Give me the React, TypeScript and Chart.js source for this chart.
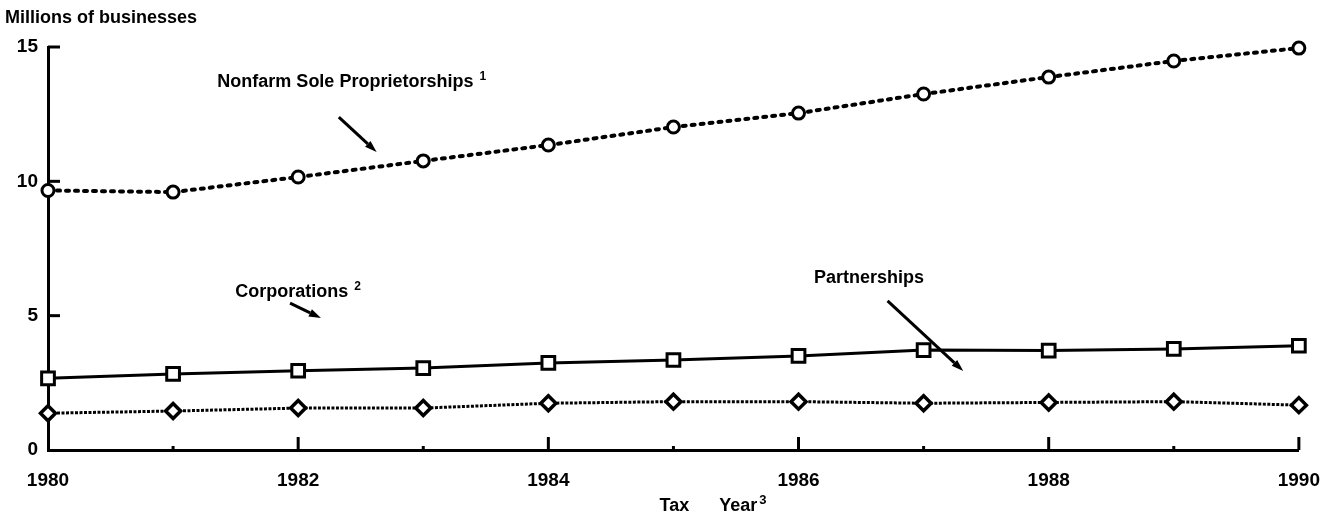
import React, { useEffect, useRef } from "react";
import { Chart, registerables } from "chart.js";

Chart.register(...registerables);

// ---- data ----
const years = [1980, 1981, 1982, 1983, 1984, 1985, 1986, 1987, 1988, 1989, 1990];
const nonfarmSoleProprietorships = [9.66, 9.6, 10.16, 10.76, 11.35, 12.02, 12.54, 13.25, 13.88, 14.48, 14.96];
const corporations = [2.67, 2.83, 2.95, 3.05, 3.24, 3.35, 3.5, 3.72, 3.7, 3.76, 3.88];
const partnerships = [1.37, 1.45, 1.56, 1.56, 1.74, 1.8, 1.8, 1.74, 1.77, 1.8, 1.67];
const yTickValues = [0, 5, 10, 15];
const xLabelYears = [1980, 1982, 1984, 1986, 1988, 1990];

const yAxisTitle = "Millions of businesses";
const xAxisTitleWords = ["Tax", "Year"];
const xAxisTitleNote = "3";

// annotation labels placed in data space (year, value of the text baseline)
const seriesLabels = [
  { text: "Nonfarm Sole Proprietorships", note: "1", x: 1981.354, y: 13.51 },
  { text: "Corporations", note: "2", x: 1981.497, y: 5.69 },
  { text: "Partnerships", note: "", x: 1986.123, y: 6.22 },
];
const arrows = [
  { x1: 1982.325, y1: 12.39, x2: 1982.627, y2: 11.09 },
  { x1: 1981.935, y1: 5.47, x2: 1982.182, y2: 4.91 },
  { x1: 1986.712, y1: 5.55, x2: 1987.317, y2: 2.94 },
];

const FONT = "'Liberation Sans', Arial, Helvetica, sans-serif";

const decorPlugin = {
  id: "decor",
  afterDraw(chart: any) {
    const { ctx, chartArea, scales } = chart;
    const xs = scales.x;
    const ys = scales.y;
    ctx.save();
    ctx.strokeStyle = "#000";
    ctx.fillStyle = "#000";
    ctx.lineWidth = 3;
    ctx.lineCap = "butt";
    // inward y ticks
    for (const v of yTickValues) {
      if (v === 0) continue;
      const py = ys.getPixelForValue(v);
      ctx.beginPath();
      ctx.moveTo(chartArea.left, py);
      ctx.lineTo(chartArea.left + 12, py);
      ctx.stroke();
    }
    // inward x ticks
    for (const yr of years) {
      if (yr === years[0]) continue;
      const px = xs.getPixelForValue(yr);
      const len = yr % 2 === 0 ? 13 : 4;
      ctx.beginPath();
      ctx.moveTo(px, chartArea.bottom);
      ctx.lineTo(px, chartArea.bottom - len);
      ctx.stroke();
    }
    // series labels
    ctx.textBaseline = "alphabetic";
    ctx.textAlign = "left";
    for (const l of seriesLabels) {
      const px = xs.getPixelForValue(l.x);
      const py = ys.getPixelForValue(l.y);
      ctx.font = `bold 18px ${FONT}`;
      ctx.fillText(l.text, px, py);
      const w = ctx.measureText(l.text).width;
      if (l.note) {
        ctx.font = `bold 12px ${FONT}`;
        ctx.fillText(l.note, px + w + 6, py - 7);
      }
    }
    // arrows
    for (const a of arrows) {
      const x1 = xs.getPixelForValue(a.x1);
      const y1 = ys.getPixelForValue(a.y1);
      const x2 = xs.getPixelForValue(a.x2);
      const y2 = ys.getPixelForValue(a.y2);
      const ang = Math.atan2(y2 - y1, x2 - x1);
      const headLen = 12;
      const headW = 4;
      const bx = x2 - headLen * Math.cos(ang);
      const by = y2 - headLen * Math.sin(ang);
      ctx.lineWidth = 3;
      ctx.beginPath();
      ctx.moveTo(x1, y1);
      ctx.lineTo(bx, by);
      ctx.stroke();
      ctx.beginPath();
      ctx.moveTo(x2, y2);
      ctx.lineTo(bx + headW * Math.sin(ang), by - headW * Math.cos(ang));
      ctx.lineTo(bx - headW * Math.sin(ang), by + headW * Math.cos(ang));
      ctx.closePath();
      ctx.fill();
    }
    // y axis title
    ctx.font = `bold 18px ${FONT}`;
    ctx.fillText(yAxisTitle, chartArea.left - 43, chartArea.top - 24);
    // x axis title
    const tx = xs.getPixelForValue(1984.889);
    const ty = chartArea.bottom + 61;
    ctx.font = `bold 18px ${FONT}`;
    ctx.fillText(xAxisTitleWords[0], tx, ty);
    const tx2 = xs.getPixelForValue(1985.366);
    ctx.fillText(xAxisTitleWords[1], tx2, ty);
    const w2 = ctx.measureText(xAxisTitleWords[1]).width;
    ctx.font = `bold 13px ${FONT}`;
    ctx.fillText(xAxisTitleNote, tx2 + w2 + 2, ty - 7);
    ctx.restore();
  },
};

export default function App() {
  const ref = useRef<HTMLCanvasElement | null>(null);
  useEffect(() => {
    if (!ref.current) return;
    const chart = new Chart(ref.current, {
      type: "line",
      data: {
        labels: years,
        datasets: [
          {
            label: "Nonfarm Sole Proprietorships",
            data: years.map((y, i) => ({ x: y, y: nonfarmSoleProprietorships[i] })),
            borderColor: "#000",
            borderWidth: 4,
            borderDash: [3, 6],
            borderCapStyle: "round",
            pointStyle: "circle",
            pointRadius: 6,
            pointBorderWidth: 3,
            pointBackgroundColor: "#fff",
            pointBorderColor: "#000",
            tension: 0,
            clip: false,
          },
          {
            label: "Corporations",
            data: years.map((y, i) => ({ x: y, y: corporations[i] })),
            borderColor: "#000",
            borderWidth: 3,
            pointStyle: "rect",
            pointRadius: 9,
            pointBorderWidth: 3,
            pointBackgroundColor: "#fff",
            pointBorderColor: "#000",
            tension: 0,
            clip: false,
          },
          {
            label: "Partnerships",
            data: years.map((y, i) => ({ x: y, y: partnerships[i] })),
            borderColor: "#000",
            borderWidth: 3,
            borderDash: [3, 1.5],
            pointStyle: "rectRot",
            pointRadius: 7.5,
            pointBorderWidth: 3.5,
            pointBackgroundColor: "#fff",
            pointBorderColor: "#000",
            tension: 0,
            clip: false,
          },
        ],
      },
      options: {
        animation: false,
        responsive: false,
        layout: { padding: { left: 0, right: 35, top: 47, bottom: 0 } },
        plugins: { legend: { display: false }, tooltip: { enabled: false } },
        scales: {
          x: {
            type: "linear",
            min: 1980,
            max: 1990,
            grid: { display: false, drawTicks: false },
            border: { display: true, color: "#000", width: 3 },
            ticks: {
              stepSize: 1,
              autoSkip: false,
              maxRotation: 0,
              padding: 19,
              color: "#000",
              font: { family: FONT, weight: "bold", size: 19 },
              callback: (v: any) => (xLabelYears.includes(Number(v)) ? String(v) : null),
            },
            afterFit: (s: any) => {
              s.height = 65;
            },
          },
          y: {
            type: "linear",
            min: 0,
            max: 15,
            grid: { display: false, drawTicks: false },
            border: { display: true, color: "#000", width: 3 },
            ticks: {
              stepSize: 5,
              padding: 10,
              color: "#000",
              font: { family: FONT, weight: "bold", size: 19 },
              callback: (v: any) => (yTickValues.includes(Number(v)) ? String(v) : null),
            },
            afterFit: (s: any) => {
              s.width = 48;
            },
          },
        },
      },
      plugins: [decorPlugin],
    } as any);
    return () => chart.destroy();
  }, []);
  return (
    <div style={{ position: "absolute", left: 0, top: 0, width: 1339, height: 515, background: "#fff" }}>
      <canvas ref={ref} width={1339} height={515} />
    </div>
  );
}
